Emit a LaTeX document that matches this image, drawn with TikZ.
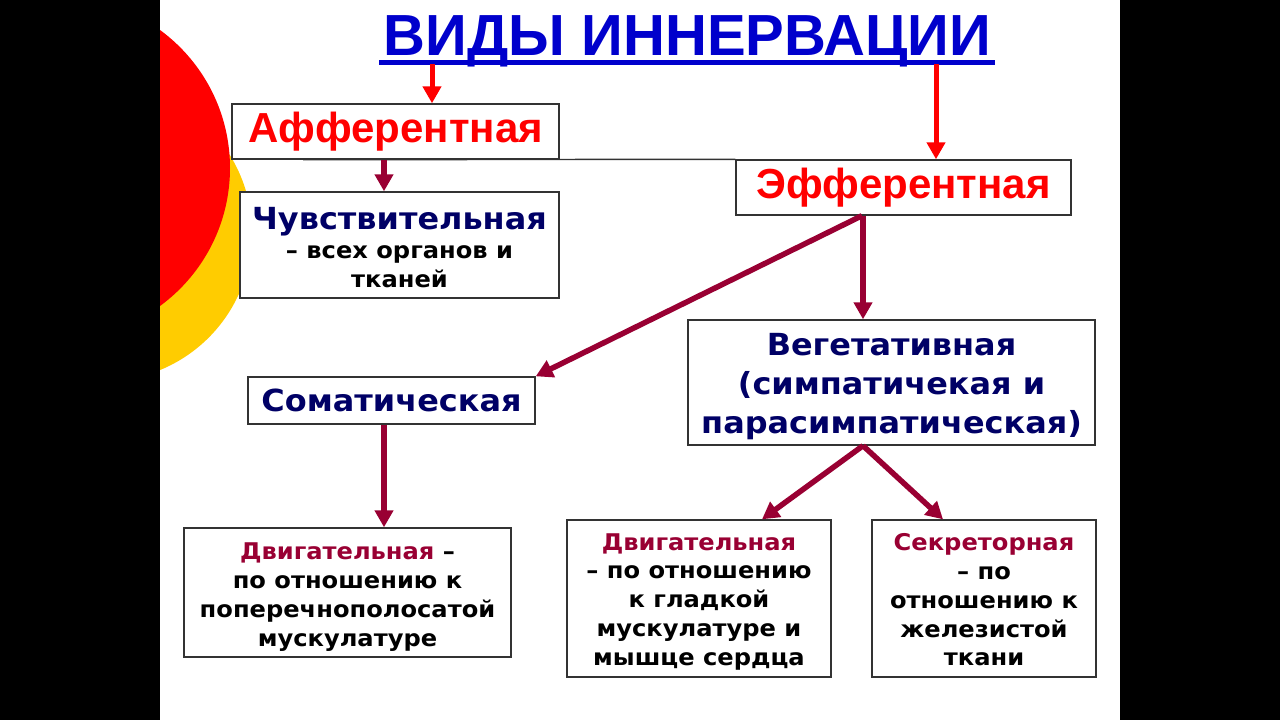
\documentclass[tikz,border=0pt]{standalone}
\usepackage{fontspec}
\setmainfont[FakeStretch=1.05]{DejaVu Sans}
\newfontfamily\arialf{Liberation Sans}
\usetikzlibrary{arrows.meta}
\definecolor{navy}{HTML}{000066}
\definecolor{wine}{HTML}{990033}
\definecolor{titleblue}{HTML}{0000CC}
\definecolor{brightred}{HTML}{FF0000}
\definecolor{sunyellow}{HTML}{FFCC00}
\definecolor{boxline}{HTML}{333333}
\newcommand{\topstrut}[1]{\rule{0pt}{#1}}
\tikzset{
  box/.style={draw=boxline, line width=1.4pt, fill=white, inner sep=0pt, align=center, font=\bfseries},
  redarrow/.style={draw=brightred, line width=5pt, -{Triangle[width=18pt,length=17pt]}},
  winearrow/.style={draw=wine, line width=5.5pt, -{Triangle[width=18pt,length=17pt]}},
  thinline/.style={draw=boxline, line width=1.4pt},
}
\begin{document}
\begin{tikzpicture}[x=1pt,y=-1pt]
\useasboundingbox (0,0) rectangle (1280,720);
\fill[black] (0,0) rectangle (1280,720);
\fill[white] (160,0) rectangle (1120,720);
\begin{scope}
  \clip (160,0) rectangle (1120,720);
  \fill[sunyellow] (104,233) circle[radius=148];
  \fill[brightred] (59,168) circle[radius=171];
\end{scope}

% title
\node[anchor=base, inner sep=0pt, text=titleblue, font=\arialf\bfseries\fontsize{58}{58}\selectfont] (title) at (687.5,55) {ВИДЫ ИННЕРВАЦИИ};
\draw[titleblue, line width=5pt] (379,62) coordinate (ulL) -- (995,62) coordinate (ulR);
\coordinate (t1) at (432,64);
\coordinate (t2) at (936,64);

% boxes
\node[box, minimum width=327pt, minimum height=55pt, text=brightred, font=\arialf\bfseries\fontsize{42}{42}\selectfont] (aff) at (395.5,131.5) {Афферентная};
\node[box, minimum width=335pt, minimum height=55pt, text=brightred, font=\arialf\bfseries\fontsize{42}{42}\selectfont] (eff) at (903.5,187.5) {Эфферентная};
\node[box, minimum width=319pt, minimum height=106pt, font=\bfseries\fontsize{23}{29}\selectfont] (chuv) at (399.5,245)
  {\topstrut{28pt}{\color{navy}\fontsize{30.4}{29}\selectfont Чувствительная}\\[0pt]– всех органов и\\тканей};
\node[box, minimum width=287pt, minimum height=47pt, text=navy, font=\bfseries\fontsize{30.4}{30}\selectfont] (som) at (391.5,400.5) {Соматическая};
\node[box, minimum width=407pt, minimum height=125pt, text=navy, font=\bfseries\fontsize{30.4}{39}\selectfont] (veg) at (891.5,382.5)
  {\topstrut{31pt}Вегетативная\\(симпатичекая и\\парасимпатическая)};
\node[box, minimum width=327pt, minimum height=129pt, font=\bfseries\fontsize{23}{29}\selectfont] (bl) at (347.5,592.5)
  {\topstrut{26pt}{\color{wine}Двигательная} –\\по отношению к\\поперечнополосатой\\мускулатуре};
\node[box, minimum width=264pt, minimum height=157pt, font=\bfseries\fontsize{23}{28.7}\selectfont] (bm) at (699,598.5)
  {\topstrut{23pt}{\color{wine}Двигательная}\\– по отношению\\к гладкой\\мускулатуре и\\мышце сердца};
\node[box, minimum width=224pt, minimum height=157pt, font=\bfseries\fontsize{23}{28.7}\selectfont] (br) at (984,598.5)
  {\topstrut{20pt}{\color{wine}Секреторная}\\– по\\отношению к\\железистой\\ткани};

% thin line
\draw[thinline] (aff.south west -| 303,0) -- (eff.north west);

% arrows
\draw[redarrow] (t1) -- (aff.north -| t1);
\draw[redarrow] (t2) -- (eff.north -| t2);
\draw[winearrow] (aff.south -| 384,0) -- (chuv.north -| 384,0);
\draw[winearrow] (eff.south -| 863,0) -- (veg.north -| 863,0);
\draw[winearrow] (eff.south -| 862,0) -- (som.north east);
\draw[winearrow] (som.south -| 384,0) -- (bl.north -| 384,0);
\draw[winearrow] (veg.south -| 863,0) -- (bm.north -| 762,0);
\draw[winearrow] (veg.south -| 863,0) -- (br.north -| 943,0);
\end{tikzpicture}
\end{document}
